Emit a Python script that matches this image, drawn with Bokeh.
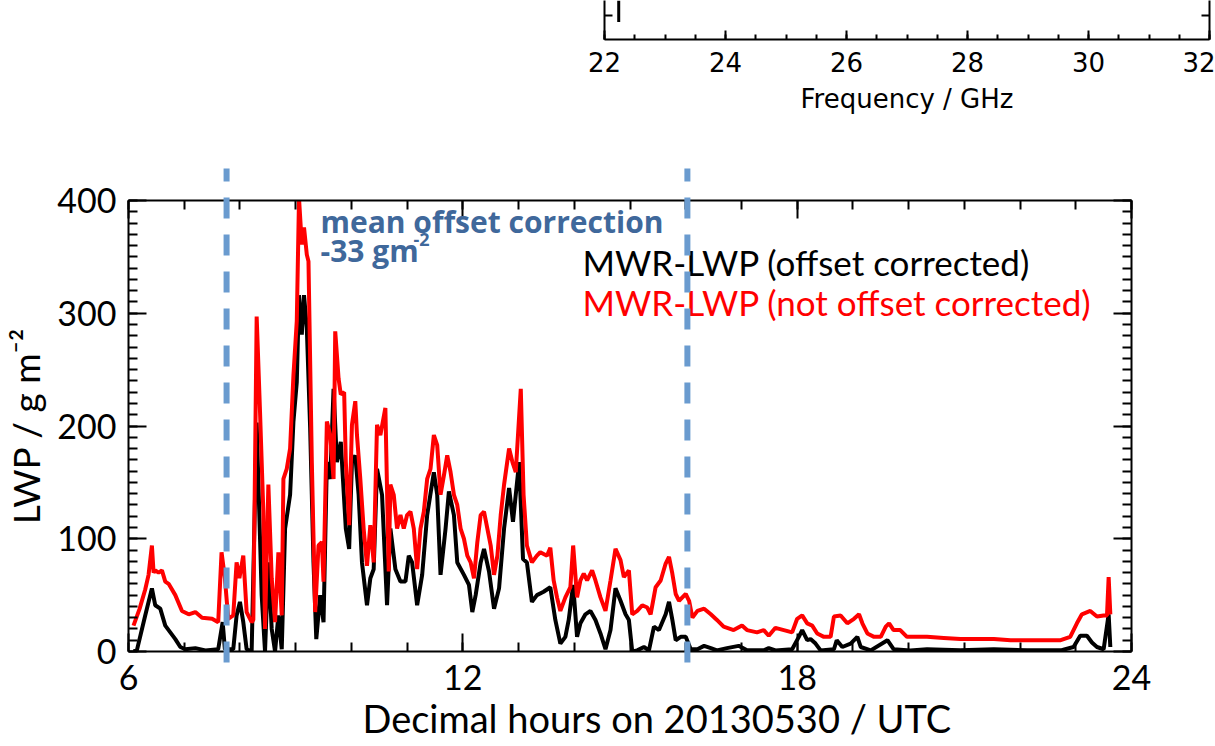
import math
from bokeh.plotting import figure
from bokeh.models import Range1d, LinearAxis, FixedTicker, Label, Title
from bokeh.embed import file_html
from bokeh.resources import INLINE

# ---------------- data ----------------
red_t = [6.09, 6.20, 6.30, 6.36, 6.42, 6.45, 6.48, 6.54, 6.60, 6.66, 6.72, 6.84, 6.96, 7.08, 7.20, 7.32, 7.50, 7.61,
         7.67, 7.73, 7.79, 7.88, 7.94, 7.99, 8.06, 8.12, 8.21, 8.24, 8.30, 8.36, 8.42, 8.45, 8.51, 8.57, 8.63, 8.69,
         8.75, 8.78, 8.84, 8.90, 8.96, 9.02, 9.06, 9.11, 9.15, 9.20, 9.23, 9.29, 9.35, 9.41, 9.47, 9.50, 9.56, 9.62,
         9.68, 9.71, 9.77, 9.81, 9.87, 9.90, 9.96, 10.01, 10.07, 10.10, 10.16, 10.22, 10.28, 10.34, 10.40, 10.46,
         10.52, 10.61, 10.67, 10.70, 10.76, 10.82, 10.88, 10.94, 11.00, 11.06, 11.12, 11.18, 11.24, 11.30, 11.36,
         11.42, 11.48, 11.54, 11.60, 11.66, 11.72, 11.78, 11.84, 11.90, 11.96, 12.02, 12.08, 12.14, 12.20, 12.26,
         12.32, 12.38, 12.44, 12.50, 12.56, 12.62, 12.68, 12.74, 12.83, 12.89, 12.95, 13.04, 13.09, 13.15, 13.24,
         13.33, 13.39, 13.51, 13.57, 13.63, 13.69, 13.75, 13.84, 13.93, 13.98, 14.05, 14.11, 14.17, 14.23, 14.32,
         14.38, 14.47, 14.56, 14.65, 14.74, 14.83, 14.89, 14.98, 15.04, 15.13, 15.22, 15.31, 15.37, 15.46, 15.55,
         15.64, 15.70, 15.76, 15.82, 15.88, 15.94, 16.00, 16.06, 16.12, 16.21, 16.33, 16.45, 16.56, 16.68, 16.86,
         17.01, 17.10, 17.28, 17.40, 17.49, 17.61, 17.76, 17.91, 18.00, 18.09, 18.18, 18.27, 18.36, 18.48, 18.60,
         18.66, 18.78, 18.90, 19.02, 19.11, 19.17, 19.26, 19.38, 19.50, 19.59, 19.65, 19.73, 19.85, 19.97, 20.15,
         20.33, 20.63, 20.93, 21.23, 21.53, 21.83, 22.13, 22.43, 22.73, 22.90, 23.02, 23.11, 23.26, 23.38, 23.50,
         23.56, 23.59, 23.62]
red_v = [23, 38, 55, 68, 94, 70, 72, 70, 72, 62, 60, 50, 36, 33, 35, 30, 29, 26,
         88, 65, 29, 32, 79, 65, 85, 35, 26, 28, 297, 213, 124, 20, 148, 65, 26, 88,
         32, 153, 162, 180, 245, 293, 402, 361, 376, 352, 346, 168, 35, 94, 97, 62, 204, 192,
         153, 284, 242, 228, 230, 168, 112, 201, 222, 192, 153, 109, 76, 112, 79, 201,
         192, 216, 71, 148, 139, 109, 121, 109, 121, 124, 109, 73, 109, 124, 153,
         162, 192, 183, 139, 156, 174, 159, 139, 130, 109, 100, 85, 79, 65, 97,
         121, 124, 109, 94, 68, 85, 121, 148, 180, 168, 159, 233, 139, 94, 79,
         85, 88, 85, 92, 63, 48, 36, 48, 57, 94, 48, 63, 69, 63, 72,
         63, 48, 36, 63, 91, 81, 66, 72, 33, 36, 41, 39, 33, 57, 63,
         78, 84, 69, 51, 45, 48, 51, 45, 30, 36, 38, 33, 28, 22, 19,
         23, 19, 17, 19, 14, 21, 19, 17, 29, 32, 25, 23, 16, 13, 13,
         31, 32, 25, 29, 33, 25, 16, 13, 13, 22, 25, 19, 19, 13, 13,
         13, 12, 11, 11, 11, 10, 10, 10, 10, 13, 25, 33, 36, 31, 32,
         32, 66, 33]

blk_t = [6.09, 6.15, 6.30, 6.42, 6.48, 6.57, 6.66, 6.75, 6.84, 6.93, 7.02, 7.20, 7.38, 7.61, 7.69, 7.73, 7.88, 7.94,
         8.00, 8.06, 8.12, 8.21, 8.30, 8.39, 8.45, 8.51, 8.57, 8.63, 8.69, 8.75, 8.81, 8.90, 8.96, 9.02, 9.06, 9.11,
         9.15, 9.20, 9.26, 9.32, 9.37, 9.44, 9.50, 9.56, 9.62, 9.68, 9.74, 9.81, 9.90, 9.96, 10.01, 10.07, 10.13,
         10.19, 10.28, 10.34, 10.40, 10.46, 10.55, 10.64, 10.70, 10.79, 10.88, 10.97, 11.03, 11.09, 11.18, 11.27,
         11.36, 11.48, 11.54, 11.60, 11.69, 11.75, 11.84, 11.90, 12.02, 12.11, 12.17, 12.23, 12.32, 12.38, 12.47,
         12.56, 12.65, 12.74, 12.83, 12.90, 13.01, 13.08, 13.15, 13.24, 13.33, 13.45, 13.57, 13.66, 13.75, 13.84,
         13.90, 13.98, 14.05, 14.11, 14.20, 14.29, 14.38, 14.47, 14.56, 14.65, 14.74, 14.83, 14.92, 14.98, 15.04,
         15.13, 15.25, 15.34, 15.43, 15.52, 15.64, 15.70, 15.76, 15.82, 15.91, 16.00, 16.09, 16.21, 16.33, 16.45,
         16.56, 16.74, 16.95, 17.10, 17.40, 17.49, 17.61, 17.91, 18.03, 18.09, 18.18, 18.24, 18.33, 18.42, 18.66,
         18.71, 18.81, 18.96, 19.08, 19.14, 19.32, 19.62, 19.73, 20.03, 20.33, 20.93, 21.53, 22.13, 22.73, 22.96,
         23.08, 23.20, 23.29, 23.38, 23.50, 23.59, 23.62]
blk_v = [0, 1, 32, 56, 41, 38, 23, 17, 11, 4, 2, 3, 1, 2, 26, 2, 2, 32,
         44, 26, 2, 0, 203, 50, 0, 79, 20, 0, 32, 2, 109, 139, 204, 239, 316, 281,
         316, 287, 198, 79, 11, 50, 26, 168, 153, 233, 168, 186, 109, 91, 168, 174, 139,
         79, 41, 65, 73, 162, 139, 41, 109, 73, 62, 62, 85, 79, 41, 68,
         121, 159, 139, 68, 109, 142, 121, 79, 68, 59, 35, 50, 79, 91, 71,
         38, 56, 109, 145, 115, 168, 82, 79, 44, 50, 53, 57, 28, 7, 13,
         28, 59, 13, 25, 33, 36, 28, 16, 2, 19, 56, 45, 33, 28, 0,
         1, 4, 1, 22, 19, 33, 44, 28, 10, 13, 13, 2, 2, 5, 3,
         1, 3, 5, 1, 1, 3, 1, 2, 13, 19, 10, 11, 7, 1, 2,
         10, 4, 7, 13, 4, 1, 10, 2, 1, 2, 1, 2, 1, 1, 4,
         14, 14, 8, 4, 2, 33, 4]

correction_hours = [7.76, 16.03]          # dashed markers
x_major = [6, 12, 18, 24]
x_minor = list(range(6, 25))
y_major = [0, 100, 200, 300, 400]
y_minor = list(range(0, 401, 10))

freq_major = [22, 24, 26, 28, 30, 32]
freq_minor = [22 + 0.5 * i for i in range(21)]
line_freq = [22.235]

FONT = "Lato"
BOLDFONT = "Open Sans"
W = 1215
TOP_H = 130
MAIN_H = 746 - TOP_H

# ---------------- top (cut) panel ----------------
t = figure(width=W, height=TOP_H, x_range=Range1d(22, 32), y_range=Range1d(0, 1),
           output_backend="svg", toolbar_location=None,
           min_border_left=604, min_border_right=6, min_border_top=0, min_border_bottom=TOP_H - 39,
           outline_line_color=None, background_fill_color="white", border_fill_color="white")
t.grid.visible = False
t.segment(x0=line_freq, x1=line_freq, y0=[0.45], y1=[1.0], line_color="black", line_width=3)

tx = t.xaxis[0]
tx.ticker = FixedTicker(ticks=freq_major, minor_ticks=freq_minor)
tx.axis_label = "Frequency / GHz"
tx.axis_line_width = 2
tx.major_tick_in = 9
tx.major_tick_out = 0
tx.minor_tick_in = 5
tx.minor_tick_out = 0
tx.major_tick_line_width = 2
tx.minor_tick_line_width = 2
tx.major_label_text_font = "DejaVu Sans"
tx.major_label_text_font_size = "26px"
tx.major_label_text_color = "black"
tx.major_label_standoff = 12
tx.axis_label_text_font = "DejaVu Sans"
tx.axis_label_text_font_size = "26px"
tx.axis_label_text_font_style = "normal"
tx.axis_label_text_color = "black"
tx.axis_label_standoff = 9

for loc in ["left", "right"]:
    if loc == "left":
        ax = t.yaxis[0]
    else:
        ax = LinearAxis()
        t.add_layout(ax, "right")
    ax.ticker = FixedTicker(ticks=[0.62], minor_ticks=[])
    ax.axis_line_width = 2
    ax.major_tick_in = 8
    ax.major_tick_out = 0
    ax.major_tick_line_width = 2
    ax.major_label_text_font_size = "1px"
    ax.major_label_text_color = None

t.add_layout(Label(x=22 + (571 - 604) * 10 / 593, y=1 - 19 / 39, text="T", angle=math.pi / 2,
                   text_font="DejaVu Sans", text_font_size="24px", text_align="left",
                   text_baseline="middle", text_color="black"))

# ---------------- main panel ----------------
p = figure(width=W, height=MAIN_H, x_range=Range1d(6, 24), y_range=Range1d(0, 400),
           output_backend="svg", toolbar_location=None,
           min_border_left=128, min_border_right=84, min_border_top=70, min_border_bottom=95,
           outline_line_color=None, background_fill_color="white", border_fill_color="white")
p.grid.visible = False


def hx(px):
    return 6 + (px - 128) * 18 / 1003


def vy(py):
    return (651 - py) * 400 / 451


p.line(blk_t, blk_v, line_color="black", line_width=4)
p.line(red_t, red_v, line_color="#ff0000", line_width=4)

xb = p.xaxis[0]
yl = p.yaxis[0]
xt = LinearAxis()
yr = LinearAxis()
p.add_layout(xt, "above")
p.add_layout(yr, "right")

for ax in (xb, xt):
    ax.ticker = FixedTicker(ticks=x_major, minor_ticks=x_minor)
for ax in (yl, yr):
    ax.ticker = FixedTicker(ticks=y_major, minor_ticks=y_minor)

for ax, labels in [(xb, True), (xt, False), (yl, True), (yr, False)]:
    ax.axis_line_width = 2
    ax.axis_line_color = "black"
    ax.major_tick_in = 18
    ax.major_tick_out = 0
    ax.minor_tick_in = 9
    ax.minor_tick_out = 0
    ax.major_tick_line_width = 2
    ax.minor_tick_line_width = 2
    if labels:
        ax.major_label_text_font = FONT
        ax.major_label_text_font_size = "34px"
        ax.major_label_text_color = "black"
    else:
        ax.major_label_text_font_size = "1px"
        ax.major_label_text_color = None

xb.major_label_standoff = 13
yl.major_label_standoff = 12

# x-axis title (offset to the right like the original)
p.add_layout(Title(text="Decimal hours on 20130530 / UTC", align="left", offset=362 - 128,
                   text_font=FONT, text_font_size="38px", text_font_style="normal",
                   text_color="black", standoff=0), "below")

yl.axis_label = "LWP / g m\u207b\u00b2"
yl.axis_label_text_font = FONT
yl.axis_label_text_font_size = "37px"
yl.axis_label_text_font_style = "normal"
yl.axis_label_text_color = "black"
yl.axis_label_standoff = 6

BLUE = "#3f689b"
DASH = "#6a9bcf"

labels = [
    Label(x=hx(320), y=vy(221), text="mean offset correction", text_font=BOLDFONT, text_font_size="30px",
          text_font_style="bold", text_color=BLUE, text_align="left", text_baseline="middle"),
    Label(x=hx(320), y=vy(250), text="-33 gm", text_font=BOLDFONT, text_font_size="30px",
          text_font_style="bold", text_color=BLUE, text_align="left", text_baseline="middle"),
    Label(x=hx(413), y=vy(239), text="-2", text_font=BOLDFONT, text_font_size="18px",
          text_font_style="bold", text_color=BLUE, text_align="left", text_baseline="middle"),
    Label(x=hx(582), y=vy(261), text="MWR-LWP (offset corrected)", text_font=FONT, text_font_size="35px",
          text_color="black", text_align="left", text_baseline="middle"),
    Label(x=hx(582), y=vy(301), text="MWR-LWP (not offset corrected)", text_font=FONT, text_font_size="35px",
          text_color="#ff0000", text_align="left", text_baseline="middle"),
]
for lb in labels:
    p.add_layout(lb)

n = len(correction_hours)
p.segment(x0=correction_hours, x1=correction_hours, y0=[vy(168)] * n, y1=[vy(667)] * n,
          line_color=DASH, line_width=6, line_dash="21 16", line_dash_offset=8, level="overlay")

html = file_html([t, p], INLINE)
html = html.replace("<head>", "<head><style>html,body{margin:0;padding:0;}</style>", 1)
open("out.html", "w").write(html)
